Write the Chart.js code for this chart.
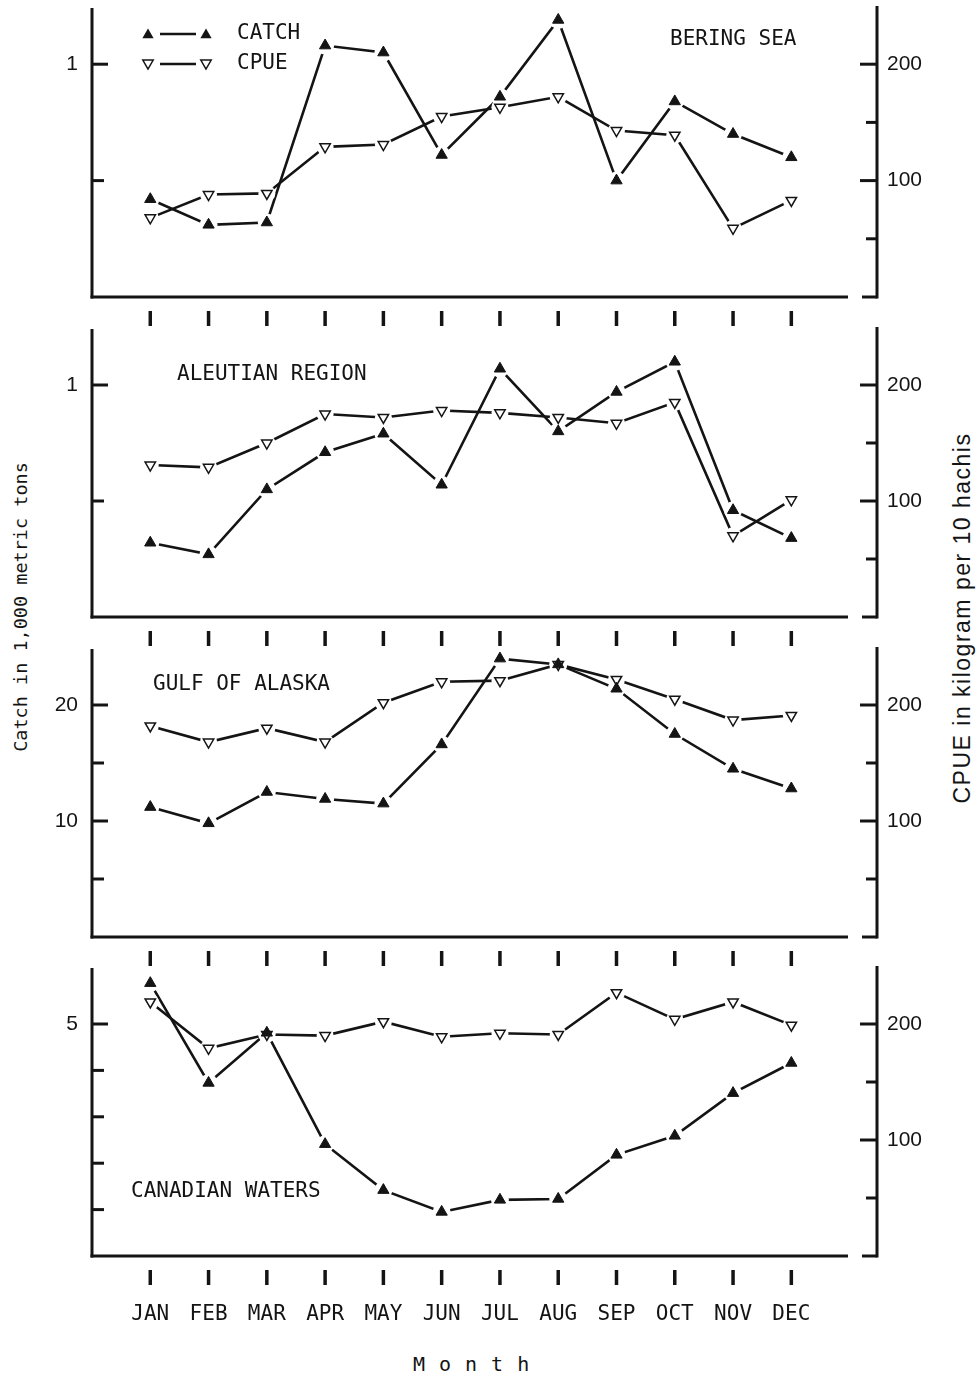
<!DOCTYPE html>
<html>
<head>
<meta charset="utf-8">
<title>Catch and CPUE by month</title>
<script src="https://cdn.jsdelivr.net/npm/chart.js@4.4.1/dist/chart.umd.min.js"></script>
<style>
  html, body { margin: 0; padding: 0; background: #fff; }
  #page { position: relative; width: 979px; height: 1377px; overflow: hidden; background: #fff; }
  canvas { position: absolute; left: 0; }
  .title { position: absolute; color: #141414; white-space: nowrap; line-height: 1; }
  #ytitle-left { left: 20px; top: 607px; font: 18.5px "DejaVu Sans Mono"; transform: translate(-50%, -50%) rotate(-90deg); }
  #ytitle-right { left: 962px; top: 618px; font: 23px "Liberation Sans"; letter-spacing: 1.5px; transform: translate(-50%, -50%) rotate(-90deg); }
  #xtitle { left: 413px; top: 1364px; font: 20px "DejaVu Sans Mono"; letter-spacing: 14px; transform: translateY(-50%); }
</style>
</head>
<body>
<div id="page">
  <div class="title" id="ytitle-left">Catch in 1,000 metric tons</div>
  <div class="title" id="ytitle-right">CPUE in kilogram per 10 hachis</div>
  <div class="title" id="xtitle">Month</div>
</div>
<script>
const MONTHS = ['JAN', 'FEB', 'MAR', 'APR', 'MAY', 'JUN', 'JUL', 'AUG', 'SEP', 'OCT', 'NOV', 'DEC'];
const REGIONS = ['BERING SEA', 'ALEUTIAN REGION', 'GULF OF ALASKA', 'CANADIAN WATERS'];

// catch, 1,000 metric tons (left axis)
const BERING_CATCH   = [0.42, 0.31, 0.32, 1.08, 1.05, 0.61, 0.86, 1.19, 0.50, 0.84, 0.70, 0.60];
const ALEUTIAN_CATCH = [0.32, 0.27, 0.55, 0.71, 0.79, 0.57, 1.07, 0.80, 0.97, 1.10, 0.46, 0.34];
const GULF_CATCH     = [11.2, 9.8, 12.5, 11.9, 11.5, 16.6, 24.0, 23.5, 21.4, 17.5, 14.5, 12.8];
const CANADA_CATCH   = [5.88, 3.73, 4.81, 2.41, 1.42, 0.95, 1.21, 1.23, 2.18, 2.59, 3.51, 4.16];

// CPUE, kg per 10 hachis (right axis)
const BERING_CPUE   = [68, 88, 89, 129, 131, 155, 163, 172, 143, 139, 59, 83];
const ALEUTIAN_CPUE = [131, 129, 150, 175, 172, 178, 176, 172, 167, 185, 70, 101];
const GULF_CPUE     = [182, 168, 180, 168, 202, 220, 221, 235, 222, 205, 187, 191];
const CANADA_CPUE   = [219, 179, 191, 190, 202, 189, 192, 191, 227, 204, 219, 199];

const CATCH_SERIES = [BERING_CATCH, ALEUTIAN_CATCH, GULF_CATCH, CANADA_CATCH];
const CPUE_SERIES  = [BERING_CPUE, ALEUTIAN_CPUE, GULF_CPUE, CANADA_CPUE];

const CATCH_TICKS  = [[0.5, 1], [0.5, 1], [5, 10, 15, 20], [1, 2, 3, 4, 5]];
const CATCH_LABELS = [[1], [1], [10, 20], [5]];
const CATCH_MAX    = [1.25, 1.25, 25, 6.25];
const CPUE_TICKS   = [50, 100, 150, 200];
const CPUE_LABELS  = [100, 200];
const CPUE_MAX     = 250;

// page layout of the four panels (plot top / bottom, region label spot)
const PANELS = [
  { top: 6,   bottom: 297,  label: [670, 40] },
  { top: 327, bottom: 617,  label: [177, 375] },
  { top: 647, bottom: 937,  label: [153, 685] },
  { top: 966, bottom: 1256, label: [131, 1192] },
];

const INK = '#141414';
const PAD_TOP = 30;
const page = document.getElementById('page');

function line(ctx, x1, y1, x2, y2) {
  ctx.beginPath(); ctx.moveTo(x1, y1); ctx.lineTo(x2, y2); ctx.stroke();
}

function triangle(ctx, x, y, r, down) {
  ctx.beginPath();
  for (let k = 0; k < 3; k++) {
    const a = (down ? Math.PI : 0) + k * 2 * Math.PI / 3;
    const px = x + Math.sin(a) * r, py = y - Math.cos(a) * r;
    if (k) ctx.lineTo(px, py); else ctx.moveTo(px, py);
  }
  ctx.closePath();
}

function framePlugin(p, canvasTop) {
  return {
    id: 'frame',
    afterDraw(chart) {
      const { ctx, chartArea: a, scales } = chart;
      ctx.save();
      ctx.strokeStyle = INK;
      ctx.fillStyle = INK;
      ctx.lineWidth = 3;

      // axes
      line(ctx, a.left, a.top + 2, a.left, a.bottom + 1.5);
      line(ctx, a.right, a.top, a.right, a.bottom + 1.5);
      line(ctx, a.left - 1.5, a.bottom, a.right - 29, a.bottom);
      line(ctx, a.right - 15, a.bottom, a.right, a.bottom);

      // inward ticks
      scales.yL.ticks.forEach(t => {
        const y = scales.yL.getPixelForValue(t.value);
        line(ctx, a.left, y, a.left + (CATCH_LABELS[p].includes(t.value) ? 16 : 12), y);
      });
      scales.yR.ticks.forEach(t => {
        const y = scales.yR.getPixelForValue(t.value);
        line(ctx, a.right - (CPUE_LABELS.includes(t.value) ? 17 : 11), y, a.right, y);
      });

      // detached month ticks under the axis
      ctx.lineWidth = 3.5;
      scales.x.ticks.forEach(t => {
        const x = scales.x.getPixelForValue(t.value);
        line(ctx, x, a.bottom + 14, x, a.bottom + 29);
      });

      // region name
      ctx.font = '21px "DejaVu Sans Mono"';
      ctx.textBaseline = 'middle';
      ctx.textAlign = 'left';
      ctx.fillText(REGIONS[p], PANELS[p].label[0], PANELS[p].label[1] - canvasTop);

      // legend (first panel only)
      if (p === 0) {
        const rows = [{ y: 34, text: 'CATCH', down: false }, { y: 64, text: 'CPUE', down: true }];
        rows.forEach(r => {
          const y = r.y - canvasTop;
          ctx.lineWidth = 2.6;
          line(ctx, 160, y, 196, y);
          [148, 206].forEach(x => {
            if (r.down) {
              triangle(ctx, x, y - 1, 6, true);
              ctx.fillStyle = '#fff'; ctx.fill();
              ctx.lineWidth = 1.5; ctx.stroke();
              ctx.fillStyle = INK;
            } else {
              triangle(ctx, x, y + 1, 6.5, false);
              ctx.fill();
            }
          });
          ctx.fillText(r.text, 237, y);
        });
      }
      ctx.restore();
    }
  };
}

const pts = arr => arr.map((v, i) => ({ x: i, y: v }));

PANELS.forEach((panel, i) => {
  const last = i === PANELS.length - 1;
  const xH = last ? 90 : 34;
  const canvasTop = panel.top - PAD_TOP;
  const cv = document.createElement('canvas');
  cv.width = 979;
  cv.height = PAD_TOP + (panel.bottom - panel.top) + xH;
  cv.style.top = canvasTop + 'px';
  page.appendChild(cv);

  const c = CATCH_SERIES[i], q = CPUE_SERIES[i];

  new Chart(cv, {
    type: 'line',
    data: {
      datasets: [
        { data: pts(c), yAxisID: 'yL', showLine: false, pointStyle: 'triangle', pointRadius: 6.5,
          pointBackgroundColor: INK, pointBorderColor: INK, pointBorderWidth: 1 },
        { data: pts(q), yAxisID: 'yR', showLine: false, pointStyle: 'triangle', pointRotation: 180, pointRadius: 6,
          pointBackgroundColor: '#fff', pointBorderColor: INK, pointBorderWidth: 1.5 },
        { data: pts(c), yAxisID: 'yL', showLine: false, pointStyle: 'circle', pointRadius: 9,
          pointBackgroundColor: '#fff', pointBorderWidth: 0 },
        { data: pts(q), yAxisID: 'yR', showLine: false, pointStyle: 'circle', pointRadius: 8.5,
          pointBackgroundColor: '#fff', pointBorderWidth: 0 },
        { data: pts(c), yAxisID: 'yL', borderColor: INK, borderWidth: 2.6, pointRadius: 0, tension: 0 },
        { data: pts(q), yAxisID: 'yR', borderColor: INK, borderWidth: 2.6, pointRadius: 0, tension: 0 },
      ]
    },
    options: {
      responsive: false,
      animation: false,
      devicePixelRatio: 1,
      events: [],
      layout: { padding: { top: PAD_TOP, left: 0, right: 0, bottom: 0 } },
      plugins: { legend: { display: false }, tooltip: { enabled: false } },
      scales: {
        x: {
          type: 'linear', min: -1, max: 12.47,
          afterBuildTicks: s => { s.ticks = MONTHS.map((m, k) => ({ value: k })); },
          afterFit: s => { s.height = xH; },
          grid: { display: false, drawTicks: false },
          border: { display: false },
          ticks: {
            display: last, autoSkip: false, maxRotation: 0, padding: 46, color: INK,
            font: { family: 'DejaVu Sans Mono', size: 21 },
            callback: v => MONTHS[v]
          }
        },
        yL: {
          type: 'linear', position: 'left', min: 0, max: CATCH_MAX[i],
          afterBuildTicks: s => { s.ticks = CATCH_TICKS[i].map(v => ({ value: v })); },
          afterFit: s => { s.width = 92; },
          grid: { display: false, drawTicks: false },
          border: { display: false },
          ticks: {
            padding: 14, color: INK, font: { family: 'Liberation Sans', size: 21 },
            callback: v => CATCH_LABELS[i].includes(v) ? String(v) : ''
          }
        },
        yR: {
          type: 'linear', position: 'right', min: 0, max: CPUE_MAX,
          afterBuildTicks: s => { s.ticks = CPUE_TICKS.map(v => ({ value: v })); },
          afterFit: s => { s.width = 102; },
          grid: { display: false, drawTicks: false },
          border: { display: false },
          ticks: {
            padding: 10, color: INK, font: { family: 'Liberation Sans', size: 21 },
            callback: v => CPUE_LABELS.includes(v) ? String(v) : ''
          }
        }
      }
    },
    plugins: [framePlugin(i, canvasTop)]
  });
});
</script>
</body>
</html>
